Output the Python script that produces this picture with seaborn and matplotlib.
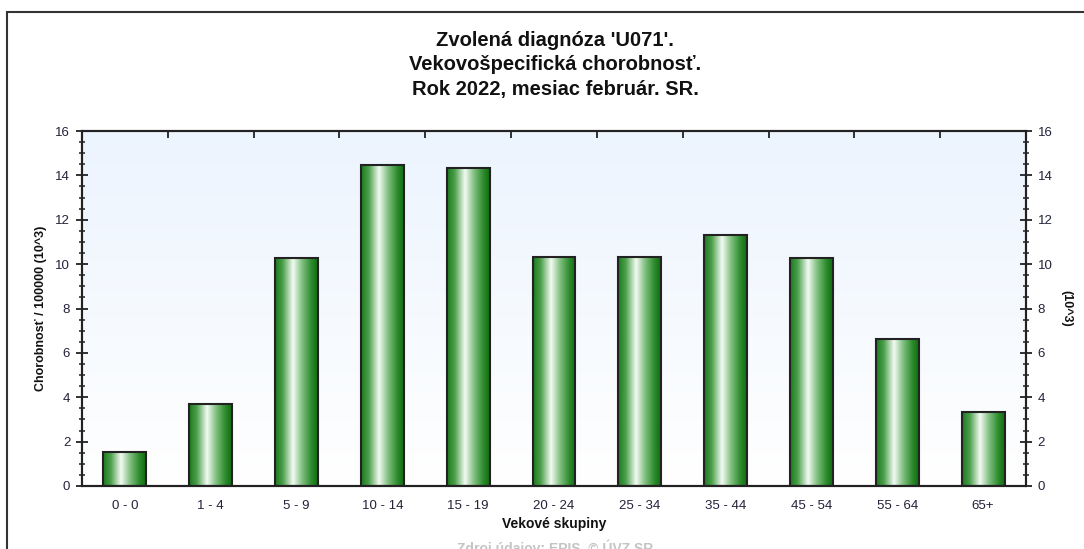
import matplotlib
matplotlib.use("Agg")
import matplotlib.pyplot as plt
import seaborn as sns
import numpy as np
from matplotlib.colors import LinearSegmentedColormap
from matplotlib.patches import Rectangle
from matplotlib.ticker import MultipleLocator, FixedLocator, NullFormatter

# data
age_groups = ["0 - 0", "1 - 4", "5 - 9", "10 - 14", "15 - 19", "20 - 24",
              "25 - 34", "35 - 44", "45 - 54", "55 - 64", "65+"]
rates = [1.53, 3.70, 10.27, 14.47, 14.33, 10.32, 10.32, 11.31, 10.27, 6.62, 3.33]

title_lines = ["Zvolená diagnóza 'U071'.",
               "Vekovošpecifická chorobnosť.",
               "Rok 2022, mesiac február. SR."]
y_label = "Chorobnosť / 100000 (10^3)"
y_label_right = "(10^3)"
x_label = "Vekové skupiny"
source = "Zdroj údajov: EPIS, © ÚVZ SR"

sns.set_style("white")
plt.rcParams['font.family'] = ['Liberation Sans', 'DejaVu Sans']

tick_col = "#22223a"
line_col = "#222222"
n = len(age_groups)

fig = plt.figure(figsize=(10.84, 5.49), dpi=100)
ax = fig.add_axes([82/1084, 1 - 486/549, (1026 - 82)/1084, (486 - 131)/549])

sns.barplot(x=age_groups, y=rates, ax=ax, width=0.5, color="green")

# background gradient, light blue at top to white at bottom
bg = np.linspace(0, 1, 256).reshape(-1, 1)
bg_cmap = LinearSegmentedColormap.from_list("bg", ["#ffffff", "#ecf4fe"])
ax.imshow(bg, cmap=bg_cmap, aspect="auto", origin="lower",
          extent=[-0.5, n - 0.5, 0, 16], zorder=0)

# cylinder-like shading on the bars
bar_cmap = LinearSegmentedColormap.from_list(
    "bar", [(0.0, "#1b7a1b"), (0.18, "#4c9f4c"), (0.42, "#f4fbf4"),
            (0.62, "#86c286"), (0.85, "#2c8b2c"), (1.0, "#106c10")])
grad = np.linspace(0, 1, 256).reshape(1, -1)
for p in list(ax.patches):
    x0, w, h = p.get_x(), p.get_width(), p.get_height()
    im = ax.imshow(grad, cmap=bar_cmap, aspect="auto",
                   extent=[x0, x0 + w, 0, h], zorder=2)
    im.set_clip_path(p)
    p.set_facecolor("none")
    p.set_edgecolor(line_col)
    p.set_linewidth(1.5)
    p.set_zorder(3)
ax.set_xlim(-0.5, n - 0.5)
ax.set_ylim(0, 16)

for s in ax.spines.values():
    s.set_visible(True)
    s.set_color(line_col)
    s.set_linewidth(1.5)

# ticks
ax.yaxis.set_major_locator(MultipleLocator(2))
ax.yaxis.set_minor_locator(MultipleLocator(0.5))
ax.tick_params(axis="y", which="major", direction="inout", length=9, width=1.3,
               color=line_col, labelcolor=tick_col, labelsize=9.5, pad=4)
ax.tick_params(axis="y", which="minor", direction="inout", length=5, width=1.1,
               color=line_col)
boundaries = np.arange(-0.5, n, 1.0)
ax.xaxis.set_minor_locator(FixedLocator(boundaries))
ax.xaxis.set_minor_formatter(NullFormatter())
ax.tick_params(axis="x", which="major", length=0, labelcolor=tick_col,
               labelsize=9.5, pad=10)
ax.tick_params(axis="x", which="minor", direction="inout", length=9, width=1.3,
               color=line_col)

# ticks along the top edge point inward only
top = ax.secondary_xaxis("top")
top.set_xticks(boundaries[1:-1])
top.set_xticklabels([])
top.tick_params(direction="in", length=5, width=1.3, color=line_col)
top.spines["top"].set_visible(False)

ax2 = ax.twinx()
ax2.set_ylim(0, 16)
ax2.yaxis.set_major_locator(MultipleLocator(2))
ax2.yaxis.set_minor_locator(MultipleLocator(0.5))
ax2.tick_params(axis="y", which="major", direction="inout", length=9, width=1.3,
                color=line_col, labelcolor=tick_col, labelsize=9.5, pad=4)
ax2.tick_params(axis="y", which="minor", direction="inout", length=5, width=1.1,
                color=line_col)
for s in ax2.spines.values():
    s.set_color(line_col)
    s.set_linewidth(1.5)
ax2.set_ylabel(y_label_right, rotation=270, fontsize=9, fontweight="bold",
               labelpad=14, color="#111111")

ax.set_ylabel(y_label, fontsize=9, fontweight="bold", color="#111111", labelpad=6)
ax.set_xlabel(x_label, fontsize=10, fontweight="bold", color="#111111", labelpad=4)

# titles
for i, line in enumerate(title_lines):
    fig.text(555/1084, 1 - (40 + 25*i)/549, line, ha="center", va="center",
             fontsize=14.5, fontweight="bold", color="#111111")

fig.text(555/1084, 1 - 540/549, source, ha="center", va="top",
         fontsize=10, fontweight="bold", color="#c4c4c4")

# outer frame
fig.patches.append(Rectangle((7/1084, -0.2), 1.2, 1.2 - 12/549, transform=fig.transFigure,
                             fill=False, edgecolor="#333333", linewidth=1.5))

fig.savefig("out.png", dpi=100)
